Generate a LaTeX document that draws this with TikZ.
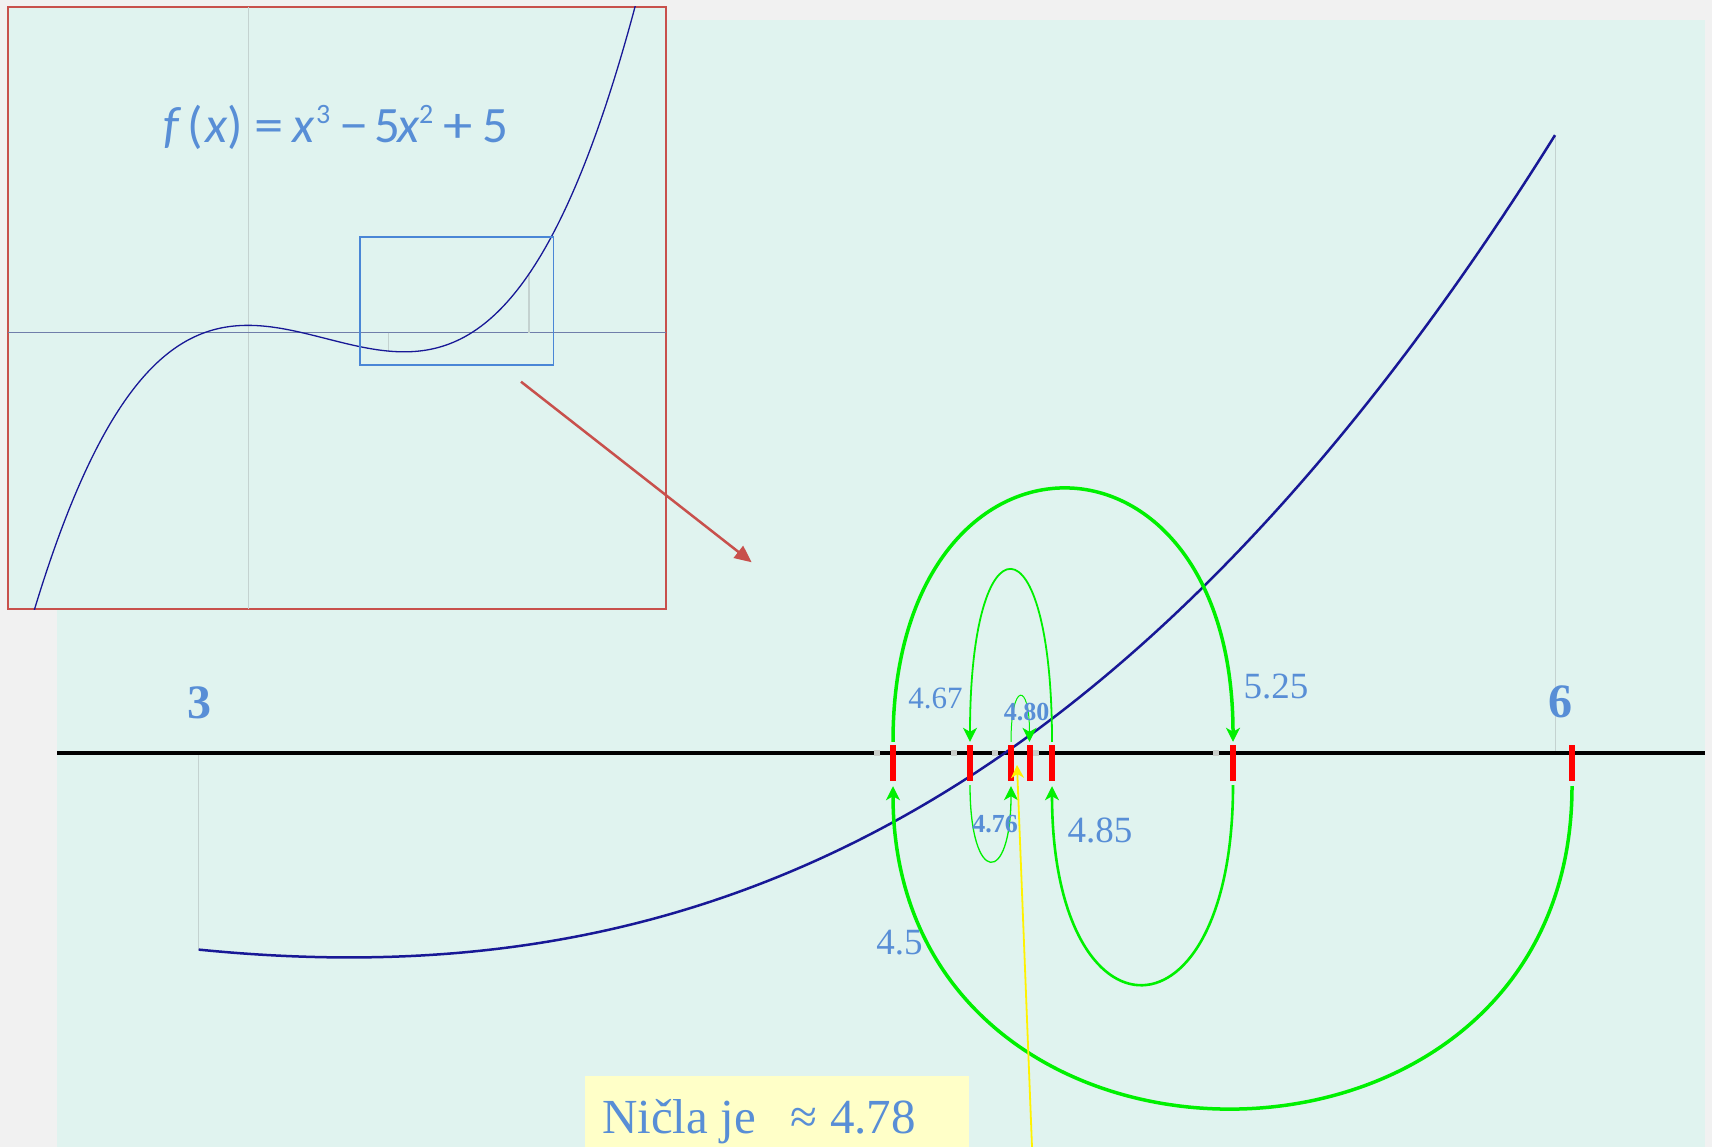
\documentclass[tikz,border=0pt]{standalone}
\usepackage{fontspec}
\setmainfont{Liberation Serif}
\newfontfamily\carlito{Carlito}
\usetikzlibrary{arrows.meta,calc}
\definecolor{bggray}{RGB}{241,241,241}
\definecolor{panel}{RGB}{224,243,239}
\definecolor{txtblue}{RGB}{88,142,214}
\definecolor{navy}{RGB}{24,24,150}
\definecolor{brick}{RGB}{200,80,76}
\definecolor{boxblue}{RGB}{74,134,214}
\definecolor{axgray}{RGB}{196,210,208}
\definecolor{dotgray}{RGB}{200,206,202}
\definecolor{insetax}{RGB}{112,126,170}
\definecolor{lime}{RGB}{0,240,0}
\definecolor{notey}{RGB}{255,255,200}
\begin{document}
\begin{tikzpicture}[x=1pt,y=-1pt,
  tickmark/.style={fill=red, draw=none, rectangle, minimum width=6pt, minimum height=36pt, inner sep=0pt},
  axdot/.style={fill=dotgray, draw=none, rectangle, minimum size=6pt, inner sep=0pt},
  val/.style={text=txtblue, inner sep=0pt, anchor=base},
  garrow/.style={draw=lime, -{Stealth[length=14pt,width=14pt,inset=4pt]}},
  gridln/.style={draw=axgray, line width=1.5pt}
]
\useasboundingbox (0,0) rectangle (1712,1147);
\fill[bggray] (0,0) rectangle (1712,1147);
\fill[panel] (57,20) rectangle (1705,1147);

% gray guide lines
\coordinate (g3a) at (198.7,753);
\coordinate (g3b) at (198.7,949.6);
\coordinate (g6a) at (1555.6,753);
\coordinate (g6b) at (1555.6,135.7);
\draw[gridln] (g3a) -- (g3b);
\draw[gridln] (g6a) -- (g6b);

% axis
\coordinate (axl) at (57,753);
\coordinate (axr) at (1705,753);
\draw[line width=3.8pt] (axl) -- (axr);

% dots at actual values
\node[axdot] (d45) at (877.2,753) {};
\node[axdot] (d467) at (954,753) {};
\node[axdot] (d476) at (994.8,753) {};
\node[axdot] (d485) at (1035.5,753) {};
\node[axdot] (d525) at (1216.4,753) {};

% main curve
\draw[navy, line width=2.5pt] plot[domain=3:6, samples=160]
  ({198.7+(\x-3)*452.3},{753.3-15.1*((\x)*(\x)*(\x)-5*(\x)*(\x)+5)});

% ticks
\node[tickmark] (t45) at (893,763) {};
\node[tickmark] (t467) at (970,763) {};
\node[tickmark] (t476) at (1011,763) {};
\node[tickmark] (t480) at (1029.5,763) {};
\node[tickmark] (t485) at (1052,763) {};
\node[tickmark] (t525) at (1233,763) {};
\node[tickmark] (t6) at (1572,763) {};

% green arcs
\draw[garrow, line width=3.5pt] ($(t45.north)+(0,-3)$) .. controls ($(t45.north)+(0,-340)$) and ($(t525.north)+(0,-340)$) .. ($(t525.north)+(0,-3)$);
\draw[garrow, line width=3.5pt] ($(t6.south)+(0,5)$) .. controls ($(t6.south)+(0,434)$) and ($(t45.south)+(0,434)$) .. ($(t45.south)+(0,5)$);
\draw[garrow, line width=2.6pt] ($(t525.south)+(0,4)$) .. controls ($(t525.south)+(0,269)$) and ($(t485.south)+(0,269)$) .. ($(t485.south)+(0,5)$);
\draw[garrow, line width=1.8pt] ($(t485.north)+(0,-3)$) .. controls ($(t485.north)+(0,-232)$) and ($(t467.north)+(0,-232)$) .. ($(t467.north)+(0,-3)$);
\draw[garrow, line width=1.3pt] ($(t467.south)+(0,4)$) .. controls ($(t467.south)+(0,105)$) and ($(t476.south)+(0,105)$) .. ($(t476.south)+(0,5)$);
\draw[garrow, line width=1pt] ($(t476.north)+(0,-3)$) .. controls ($(t476.north)+(0,-63.5)$) and ($(t480.north)+(0,-63.5)$) .. ($(t480.north)+(0,-3)$);

% labels
\node[val, font=\bfseries\fontsize{48}{58}\selectfont] (l3) at (199.6,718) {3};
\node[val, font=\bfseries\fontsize{48}{58}\selectfont] (l6) at (1560,717) {6};
\node[val, font=\fontsize{37}{44}\selectfont] (l45) at (899.5,954) {4.5};
\node[val, font=\fontsize{31}{38}\selectfont] (l467) at (935.5,708) {4.67};
\node[val, font=\fontsize{37}{44}\selectfont] (l525) at (1276,698) {5.25};
\node[val, font=\bfseries\fontsize{26}{32}\selectfont] (l480) at (1026.5,720) {4.80};
\node[val, font=\bfseries\fontsize{26}{32}\selectfont] (l476) at (995,832) {4.76};
\node[val, font=\fontsize{37}{44}\selectfont] (l485) at (1100,842) {4.85};

% yellow pointer
\coordinate (ybot) at (1032,1147);
\coordinate (ytip) at (1017,765);
\draw[draw=yellow, line width=1.8pt, -{Stealth[length=13pt,width=13pt,inset=4pt]}] (ybot) -- (ytip);

% answer box
\node[fill=notey, draw=none, minimum width=384pt, minimum height=80pt, anchor=north west, inner sep=0pt] (notebox) at (585,1076) {};
\node[val, anchor=base west, font=\fontsize{49}{58}\selectfont] (ans) at (602,1133) {Ničla je\hspace{35pt}≈ 4.78};

% inset
\draw[brick, line width=2pt, fill=panel] (8,7) rectangle (666,609);
\begin{scope}
\clip (8,7) rectangle (666,609);
\draw[axgray, line width=1pt] (248,7) -- (248,609);
\draw[insetax, line width=1.2pt] (8,332.5) -- (666,332.5);
\draw[axgray, line width=1.2pt] (388.5,332.5) -- (388.5,351.4);
\draw[axgray, line width=1.2pt] (529,332.5) -- (529,273);
\draw[navy, line width=1.3pt] plot[domain=-4.6:8.35, samples=220]
  ({248+46.84*\x},{332.5-1.43*((\x)*(\x)*(\x)-5*(\x)*(\x)+5)});
\end{scope}
\draw[boxblue, line width=1.8pt] (360.3,236.9) rectangle (553.5,364.7);
\node[text=txtblue, anchor=base west, inner sep=0pt, font=\carlito\fontsize{51}{60}\selectfont] (formula) at (163,142.3)
 {\makebox[24pt][l]{\itshape f}\makebox[18pt][l]{(}\makebox[22pt][l]{\itshape x}\makebox[27pt][l]{)}\makebox[38pt][l]{\scalebox{1.15}[1]{=}}\makebox[24pt][l]{\itshape x}\makebox[23pt][l]{\raisebox{19pt}{\fontsize{28}{28}\selectfont 3}}\makebox[35pt][l]{\scalebox{1.15}[1]{−}}\makebox[23pt][l]{5}\makebox[22pt][l]{\itshape x}\makebox[24pt][l]{\raisebox{19pt}{\fontsize{28}{28}\selectfont 2}}\makebox[39pt][l]{\scalebox{1.15}[1]{+}}5};

% red zoom arrow
\coordinate (ra) at (521,381.7);
\coordinate (rb) at (751.7,562.3);
\draw[brick, line width=2.5pt, -{Triangle[length=17pt,width=15pt]}] (ra) -- (rb);
\end{tikzpicture}
\end{document}
